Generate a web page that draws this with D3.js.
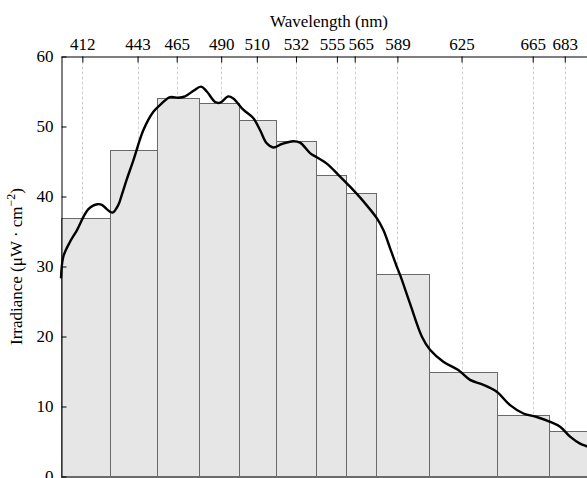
<!DOCTYPE html>
<html>
<head>
<meta charset="utf-8">
<script src="https://cdn.jsdelivr.net/npm/d3@7"></script>
<style>
  html, body { margin: 0; padding: 0; background: #fff; overflow: hidden; }
  svg { display: block; }
  text { font-family: "Liberation Serif", "Times New Roman", serif; fill: #000; }
</style>
</head>
<body>
<svg id="chart" width="587" height="478"></svg>
<script>
// ---- Data ----
const bandCenters = [412, 443, 465, 490, 510, 532, 555, 565, 589, 625, 665, 683];
const binEdges = [400, 427.5, 454, 477.5, 500, 521, 543.5, 560, 577, 607, 645, 674, 700];
const bandIrradiance = [37.0, 46.6, 54.1, 53.4, 50.9, 47.9, 43.1, 40.5, 28.9, 15.0, 8.8, 6.5];
const yTicks = [0, 10, 20, 30, 40, 50, 60];

const spectrumWavelength = [400, 401.3, 405, 409, 412.6, 415.4, 418, 420.5, 423, 425.7, 428.9, 432.2, 434.1, 436.9,
  440.7, 446.3, 451.9, 456.6, 461.3, 465.9, 469.7, 474.4, 478.7, 481.9, 486.6, 489.4, 494, 496.8, 502.4, 508,
  511.8, 515.6, 519.3, 524, 530.5, 534.3, 539.9, 543.7, 549.3, 555.8, 562.4, 569.9, 577.4, 581.1, 584.9, 588.6,
  590.5, 596.1, 602.7, 607.3, 614.8, 623.2, 629.8, 637.3, 644.8, 652.3, 659.8, 667.3, 674.8, 680.4, 686, 691.6, 695.5, 700];
const spectrumIrradiance = [28.3, 31.4, 33.5, 35.2, 37.1, 38.2, 38.7, 38.9, 38.8, 38.2, 37.7, 38.8, 40.2, 42.4,
  45.2, 49.5, 52.1, 53.3, 54.2, 54.1, 54.3, 55.1, 55.7, 55.0, 53.5, 53.4, 54.3, 54.0, 52.4, 51.2,
  49.5, 47.6, 47.0, 47.5, 47.9, 47.7, 46.2, 45.6, 44.7, 43.1, 41.4, 39.3, 36.9, 35.2, 32.6, 30.0,
  28.8, 24.7, 20.0, 18.1, 16.4, 15.2, 13.8, 13.1, 12.1, 10.2, 9.0, 8.5, 7.8, 7.1, 5.7, 4.7, 4.3, 3.9];

// ---- Layout ----
const svg = d3.select("#chart");
const x = d3.scaleLinear().domain([400, 700]).range([61, 595]);
const y = d3.scaleLinear().domain([0, 60]).range([476.5, 56.5]);
const labelNudge = {555: -5, 565: 6};

// vertical dashed gridlines
svg.append("g").selectAll("line").data(bandCenters).join("line")
  .attr("x1", d => Math.round(x(d)) + 0.5).attr("x2", d => Math.round(x(d)) + 0.5)
  .attr("y1", y(60)).attr("y2", y(0))
  .attr("stroke", "#cfcfcf").attr("stroke-width", 1).attr("stroke-dasharray", "3,2");

// bars
svg.append("g").selectAll("rect").data(bandIrradiance).join("rect")
  .attr("x", (d, i) => Math.round(x(binEdges[i])) + 0.5)
  .attr("width", (d, i) => Math.round(x(binEdges[i + 1])) - Math.round(x(binEdges[i])))
  .attr("y", d => Math.round(y(d)) + 0.5)
  .attr("height", d => y(0) - Math.round(y(d)) - 0.5)
  .attr("fill", "#e6e6e6").attr("stroke", "#6a6a6a").attr("stroke-width", 1);

// spectrum curve
const pts = spectrumWavelength.map((w, i) => [w, spectrumIrradiance[i]]);
svg.append("path").datum(pts)
  .attr("d", d3.line().x(d => x(d[0])).y(d => y(d[1])).curve(d3.curveCatmullRom.alpha(0.5)))
  .attr("fill", "none").attr("stroke", "#000").attr("stroke-width", 2.4).attr("stroke-linejoin", "round");

// bottom axis line
svg.append("line").attr("x1", 61).attr("x2", 595).attr("y1", 477).attr("y2", 477)
  .attr("stroke", "#6a6a6a").attr("stroke-width", 2);

// top axis
const topAxis = svg.append("g").attr("transform", "translate(0,56.5)")
  .call(d3.axisTop(x).tickValues(bandCenters).tickFormat(d3.format("d")).tickSizeInner(-6).tickSizeOuter(0).tickPadding(6.5));
topAxis.select(".domain").attr("stroke", "#000");
topAxis.selectAll(".tick line").attr("stroke", "#000");
topAxis.selectAll(".tick text")
  .attr("font-family", "Liberation Serif, serif").attr("font-size", 17).attr("fill", "#000")
  .attr("dx", d => labelNudge[d] || 0);

// left axis
const leftAxis = svg.append("g").attr("transform", "translate(61.5,0)")
  .call(d3.axisLeft(y).tickValues(yTicks).tickFormat(d3.format("d")).tickSizeInner(-5).tickSizeOuter(0).tickPadding(8));
leftAxis.select(".domain").attr("stroke", "#000");
leftAxis.selectAll(".tick line").attr("stroke", "#000");
leftAxis.selectAll(".tick text")
  .attr("font-family", "Liberation Serif, serif").attr("font-size", 17).attr("fill", "#000");

// axis titles
svg.append("text").attr("x", 329).attr("y", 27).attr("text-anchor", "middle")
  .attr("font-size", 17).text("Wavelength (nm)");

const yl = svg.append("text").attr("transform", "translate(22,266.5) rotate(-90)")
  .attr("text-anchor", "middle").attr("font-size", 17);
yl.append("tspan").text("Irradiance (\u03bcW \u00b7 cm");
yl.append("tspan").attr("font-size", 12).attr("dy", -7).text("\u22122");
yl.append("tspan").attr("dy", 7).text(")");
</script>
</body>
</html>
